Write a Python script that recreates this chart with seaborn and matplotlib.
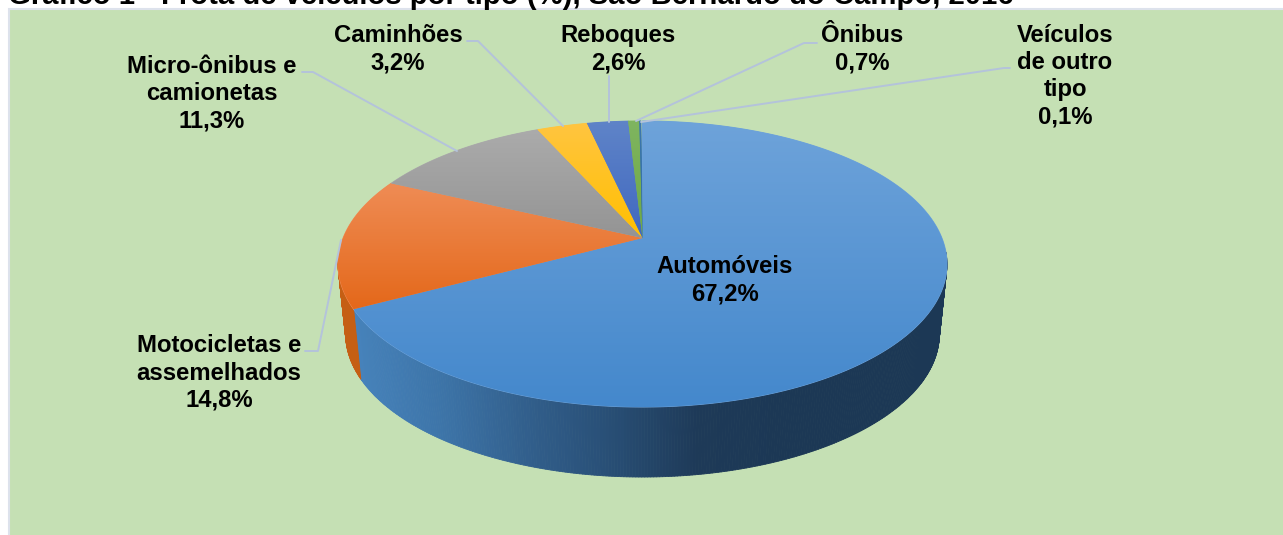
import numpy as np
import matplotlib
matplotlib.use("Agg")
import matplotlib.pyplot as plt
from matplotlib.collections import PolyCollection
from matplotlib.patches import Polygon, Rectangle
import seaborn as sns

categories = ["Automóveis", "Motocicletas e\nassemelhados", "Micro-ônibus e\ncamionetas",
              "Caminhões", "Reboques", "Ônibus", "Veículos\nde outro\ntipo"]
values = [67.2, 14.8, 11.3, 3.2, 2.6, 0.7, 0.1]
value_labels = ["67,2%", "14,8%", "11,3%", "3,2%", "2,6%", "0,7%", "0,1%"]
title = "Gráfico 1 - Frota de veículos por tipo (%), São Bernardo do Campo, 2016"

top_light = ["#6EA3DA", "#EF8C55", "#ABABAB", "#FFC540", "#5F84C8", "#7FB560", "#3C78B0"]
top_dark = ["#4488CC", "#E4681A", "#949494", "#FFBF00", "#4068C0", "#6EA845", "#2F6AA0"]
side_col = ["#3F7FB8", "#C55F14", "#7A7A7A", "#C09000", "#2F4F90", "#4F7A30", "#204F80"]

sns.set_theme(style="white")
plt.rcParams["font.family"] = ["Liberation Sans", "DejaVu Sans"]

W, H = 1283, 535
fig = plt.figure(figsize=(W / 100, H / 100), dpi=100, facecolor="white")
ax = fig.add_axes([0, 0, 1, 1])
ax.set_xlim(0, W)
ax.set_ylim(H, 0)
ax.axis("off")

ax.add_patch(Rectangle((9, 9), W, H, facecolor="#C5E0B4", edgecolor="#DDE2EC", lw=1.5, zorder=0))
ax.text(8, 4, title, fontsize=21.1, fontweight="bold", color="black", va="baseline", ha="left", zorder=5)

# perspective disc
CX, CY = 642.5, 238.0
AX, SY, K = 299.4, 138.3, 0.1818
DEPTH, SHRINK = 70.0, 0.975


def disc(theta, shrink=1.0, dy=0.0):
    X, Y = np.sin(theta), np.cos(theta)
    d = 1 + K * Y
    return CX + shrink * AX * X / d, CY + dy - SY * Y / d


edges = np.radians(np.concatenate([[0], np.cumsum(values)]) * 3.6)

# side wall (front part only; the rest is hidden behind the top face)
dark_ramp = sns.blend_palette(["#4682BB", "#3D74A8", "#325F8C", "#284E75", "#1E3A58", "#1C3855"], as_cmap=True)
for i, (a, b) in enumerate(zip(edges[:-1], edges[1:])):
    th = np.linspace(a, b, max(int((b - a) * 120), 3))
    th = th[np.cos(th) < -0.1]
    if len(th) < 2:
        continue
    x0, y0 = disc(th)
    x1, y1 = disc(th, SHRINK, DEPTH)
    polys, cols = [], []
    for j in range(len(th) - 1):
        polys.append([(x0[j], y0[j]), (x0[j + 1], y0[j + 1]), (x1[j + 1], y1[j + 1]), (x1[j], y1[j])])
        if i == 0:
            cols.append(dark_ramp(np.clip((x0[j] - 355) / 430, 0, 1)))
        else:
            cols.append(side_col[i])
    ax.add_collection(PolyCollection(polys, facecolors=cols, edgecolors=cols, linewidths=0.6, zorder=1))

# top face with a vertical gradient per slice
for i, (a, b) in enumerate(zip(edges[:-1], edges[1:])):
    th = np.linspace(a, b, max(int((b - a) * 120), 3))
    x, y = disc(th)
    px = np.r_[CX, x]
    py = np.r_[CY, y]
    ax.add_patch(Polygon(np.c_[px, py], closed=True, facecolor=top_light[i], edgecolor=top_light[i],
                         lw=0.7, zorder=1.5))
    cmap = sns.blend_palette([top_light[i], top_dark[i]], as_cmap=True)
    ext = (px.min(), px.max(), py.max(), py.min())
    im = ax.imshow(np.linspace(0, 1, 256)[:, None], cmap=cmap, extent=ext, aspect="auto", zorder=2,
                   interpolation="bilinear")
    im.set_clip_path(Polygon(np.c_[px, py], closed=True, transform=ax.transData))
ax.set_xlim(0, W)
ax.set_ylim(H, 0)

# leader lines
leaders = [
    [(305, 351), (318, 351), (341, 240)],
    [(302, 72), (313, 72), (457, 151)],
    [(467, 41), (478, 41), (563, 126)],
    [(609, 76), (609, 122)],
    [(817, 43), (804, 43), (636, 121)],
    [(1010, 68), (1004, 68), (641, 122)],
]
for pts in leaders:
    xs, ys = zip(*pts)
    ax.plot(xs, ys, color="#B4C3DB", lw=1.4, zorder=3, solid_joinstyle="round")

# labels
anchors = [(725, 280), (219, 373), (212, 94), (398, 49), (618, 49), (862, 49), (1065, 76)]
for (lx, ly), c, v in zip(anchors, categories, value_labels):
    ax.text(lx, ly, f"{c}\n{v}", ha="center", va="center", fontsize=17.2, fontweight="bold",
            color="black", linespacing=1.24, zorder=6)

fig.savefig("out.png", dpi=100)
